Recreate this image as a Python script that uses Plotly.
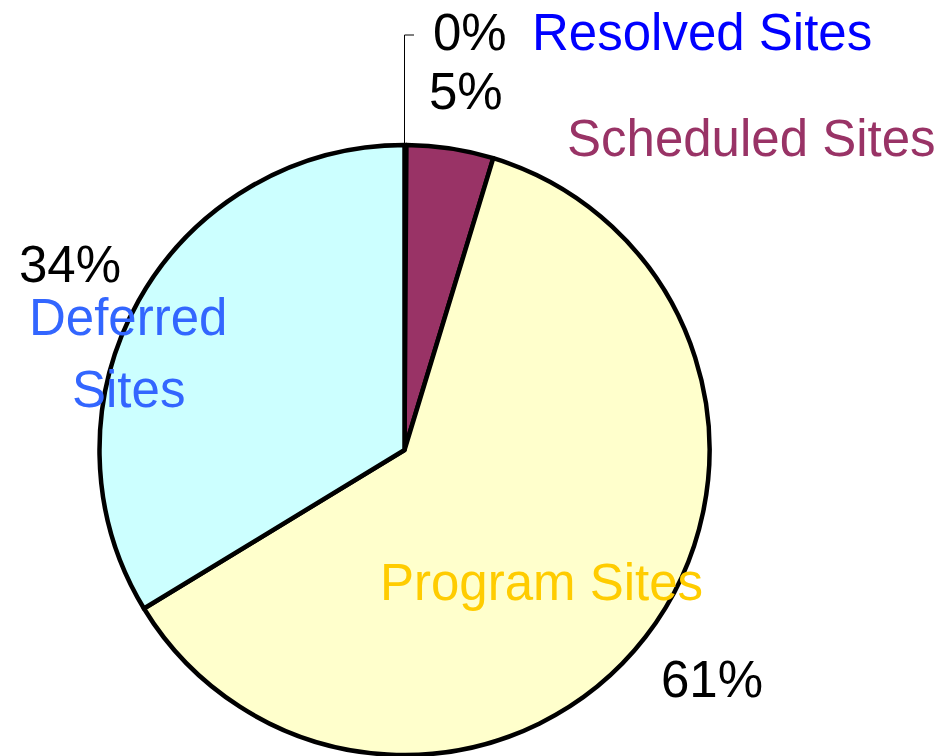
import plotly.graph_objects as go

# Data
categories = ["Resolved Sites", "Scheduled Sites", "Program Sites", "Deferred Sites"]
shares = [0.1, 4.6, 61.6, 33.7]
pct_labels = ["0%", "5%", "61%", "34%"]

# Styles
slice_colors = ["#FFFFFF", "#993366", "#FFFFCC", "#CCFFFF"]
label_colors = ["#0000FF", "#993366", "#FFCC00", "#3366FF"]

W, H = 944, 756
FONT = "Liberation Sans, Arial, sans-serif"
FS = 51

fig = go.Figure(go.Pie(
    labels=categories,
    values=shares,
    sort=False,
    direction="clockwise",
    rotation=0,
    marker=dict(colors=slice_colors, line=dict(color="black", width=4.5)),
    textinfo="none",
    hoverinfo="label+percent",
    domain=dict(x=[(404.5 - 305) / W, (404.5 + 305) / W],
                y=[1 / H, 611 / H]),
    showlegend=False,
))

def px(x, y):
    return x / W, 1 - y / H

# label positions (pixel centers) — layout only
pct_pos = [(470, 33), (466, 92), (712, 679), (70, 265)]
name_pos = [(702, 33), (751, 138), (541, 582)]

ann = []
for i, (x, y) in enumerate(pct_pos):
    X, Y = px(x, y)
    ann.append(dict(x=X, y=Y, xref="paper", yref="paper", text=pct_labels[i],
                    showarrow=False, xanchor="center", yanchor="middle",
                    font=dict(family=FONT, size=FS, color="black")))
for i, (x, y) in enumerate(name_pos):
    X, Y = px(x, y)
    ann.append(dict(x=X, y=Y, xref="paper", yref="paper", text=categories[i],
                    showarrow=False, xanchor="center", yanchor="middle",
                    font=dict(family=FONT, size=FS, color=label_colors[i])))
# Deferred Sites on two lines
d_words = categories[3].split(" ")
for word, (x, y) in zip(d_words, [(128, 317), (128, 389)]):
    X, Y = px(x, y)
    ann.append(dict(x=X, y=Y, xref="paper", yref="paper", text=word,
                    showarrow=False, xanchor="center", yanchor="middle",
                    font=dict(family=FONT, size=FS, color=label_colors[3])))

# leader line for the 0% slice
x0, y0 = px(404.5, 147)
x1, y1 = px(404.5, 35)
x2, y2 = px(414, 35)
shapes = [
    dict(type="line", xref="paper", yref="paper", x0=x0, y0=y0, x1=x1, y1=y1,
         line=dict(color="black", width=1)),
    dict(type="line", xref="paper", yref="paper", x0=x1, y0=y1, x1=x2, y1=y2,
         line=dict(color="black", width=1)),
]

fig.update_layout(
    width=W, height=H,
    margin=dict(l=0, r=0, t=0, b=0),
    paper_bgcolor="white",
    plot_bgcolor="white",
    annotations=ann,
    shapes=shapes,
)

fig.write_html("out.html",
               config={"displayModeBar": False},
               post_script="document.body.style.margin='0';document.body.style.padding='0';")
